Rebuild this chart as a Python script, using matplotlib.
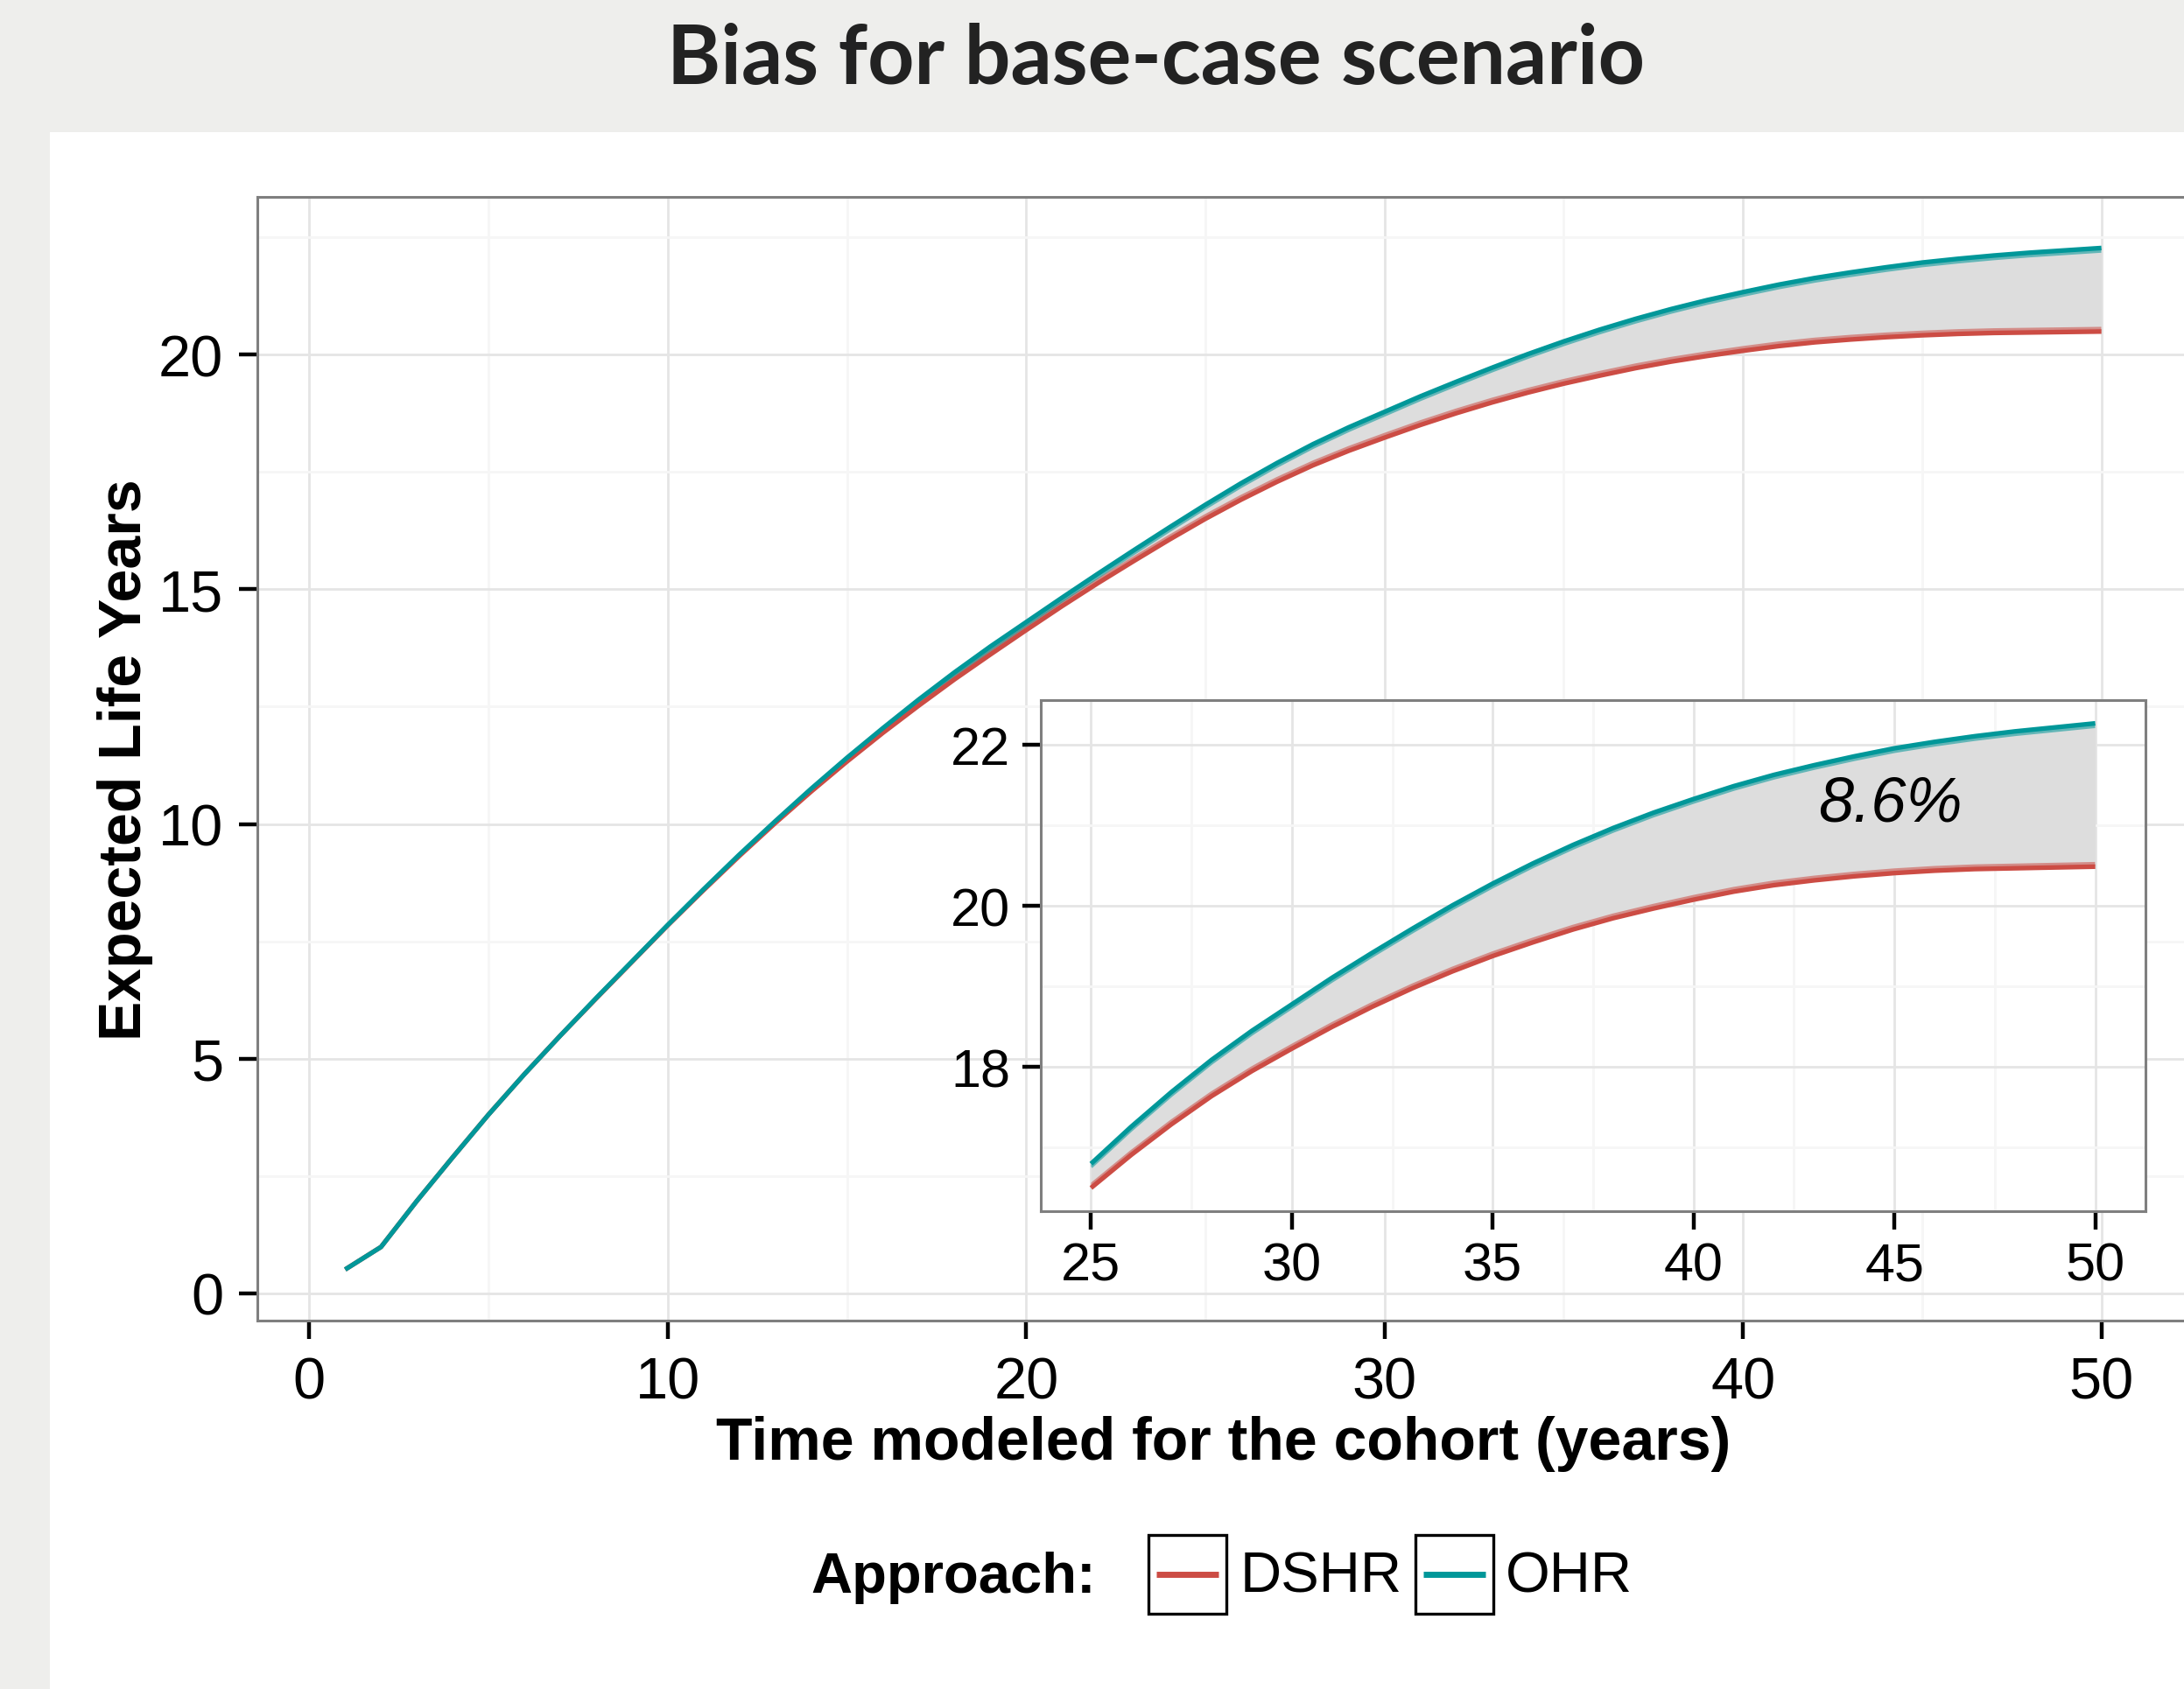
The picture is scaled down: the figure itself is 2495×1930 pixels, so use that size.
import matplotlib
matplotlib.use('Agg')
import matplotlib.pyplot as plt
from matplotlib.patches import Rectangle
from matplotlib.lines import Line2D
from matplotlib.ticker import MultipleLocator
from matplotlib.transforms import offset_copy

plt.rcParams['font.family'] = ['Liberation Sans', 'DejaVu Sans']

# data (expected life years per modeled year)
years = list(range(1, 51))
ohr = [0.51, 0.99, 1.97, 2.90, 3.81, 4.67, 5.49, 6.29, 7.07, 7.85,
       8.61, 9.35, 10.06, 10.75, 11.41, 12.04, 12.65, 13.23, 13.78, 14.30,
       14.82, 15.33, 15.83, 16.32, 16.80, 17.26, 17.69, 18.09, 18.45, 18.78,
       19.11, 19.42, 19.72, 20.01, 20.28, 20.53, 20.76, 20.97, 21.16, 21.33,
       21.49, 21.63, 21.75, 21.86, 21.96, 22.04, 22.11, 22.17, 22.22, 22.27]
dshr = [0.51, 0.99, 1.97, 2.90, 3.81, 4.67, 5.49, 6.28, 7.06, 7.84,
        8.59, 9.32, 10.02, 10.69, 11.33, 11.94, 12.52, 13.08, 13.61, 14.13,
        14.64, 15.13, 15.60, 16.06, 16.50, 16.91, 17.29, 17.64, 17.95, 18.23,
        18.50, 18.75, 18.98, 19.19, 19.38, 19.55, 19.71, 19.85, 19.97, 20.08,
        20.18, 20.26, 20.32, 20.37, 20.41, 20.44, 20.46, 20.47, 20.48, 20.49]
series_names = ['DSHR', 'OHR']
bias_label = '8.6%'
inset_start = 25

RED = '#CC4C44'
TEAL = '#009799'
BG = '#EEEEEC'
W, H = 2495, 1931
LW = 3.8


def fx(px):
    return px / W


def fy(py):
    return 1 - py / H


def style_axes(ax, xmajor, xminor, ymajor, yminor, fs, xpad, ypad):
    ax.set_facecolor('white')
    ax.xaxis.set_major_locator(MultipleLocator(xmajor))
    ax.xaxis.set_minor_locator(MultipleLocator(xminor))
    ax.yaxis.set_major_locator(MultipleLocator(ymajor))
    ax.yaxis.set_minor_locator(MultipleLocator(yminor))
    ax.grid(which='major', color='#E5E5E5', lw=2.0)
    ax.grid(which='minor', color='#F6F6F6', lw=2.0)
    ax.set_axisbelow(True)
    for s in ax.spines.values():
        s.set_color('#7F7F7F')
        s.set_linewidth(2.2)
    ax.tick_params(which='major', length=15, width=3.2, color='black',
                   labelsize=fs)
    ax.tick_params(axis='x', which='major', pad=xpad)
    ax.tick_params(axis='y', which='major', pad=ypad)
    ax.tick_params(which='minor', length=0)


def draw_series(ax, x, lo, hi):
    ribbon = ax.fill_between(x, lo, hi, color='#DDDDDD', lw=0)
    rpath = ribbon.get_paths()[0]
    # lighter inner edge on the ribbon side, clipped to the ribbon
    for ys, col, dy in [(lo, RED, 2.4), (hi, TEAL, -2.4)]:
        tr = offset_copy(ax.transData, fig=ax.figure, x=0, y=dy, units='points')
        edge, = ax.plot(x, ys, color=col, lw=3.0, alpha=0.55, transform=tr,
                        solid_capstyle='butt')
        edge.set_clip_path(rpath, ax.transData)
    ax.plot(x, lo, color=RED, lw=LW, solid_capstyle='butt')
    ax.plot(x, hi, color=TEAL, lw=LW, solid_capstyle='butt')


fig = plt.figure(figsize=(W / 100, H / 100), dpi=100)
fig.patch.set_facecolor(BG)
fig.add_artist(Rectangle((fx(57), 0), 1, fy(152), transform=fig.transFigure,
                         facecolor='white', edgecolor='none', zorder=0))

fig.text(fx(1320), fy(96), 'Bias for base-case scenario', ha='center',
         va='baseline', fontsize=67, fontweight='bold',
         family=['Lato', 'DejaVu Sans'], color='#222222')

# main panel
ax = fig.add_axes([fx(294), fy(1510), fx(2501) - fx(294), fy(226) - fy(1510)])
lo_all = min(dshr + ohr)
hi_all = max(dshr + ohr)
pad_y = 0.05 * (hi_all - lo_all)
pad_x = 0.05 * (years[-1] - years[0])
ax.set_xlim(years[0] - pad_x, years[-1] + pad_x)
ax.set_ylim(lo_all - pad_y, hi_all + pad_y)
draw_series(ax, years, dshr, ohr)
style_axes(ax, 10, 5, 5, 2.5, 48, 14, 13)
ax.set_xlabel('Time modeled for the cohort (years)', fontsize=49,
              fontweight='bold', labelpad=4)
ax.set_ylabel('Expected Life Years', fontsize=49, fontweight='bold', labelpad=4)

# inset zoom on later years
i0 = years.index(inset_start)
xs = years[i0:]
lo_in = dshr[i0:]
hi_in = ohr[i0:]
axin = fig.add_axes([fx(1189), fy(1385), fx(2451) - fx(1189), fy(801) - fy(1385)])
pxi = 0.05 * (xs[-1] - xs[0])
pyi = 0.05 * (max(hi_in) - min(lo_in))
axin.set_xlim(xs[0] - pxi, xs[-1] + pxi)
axin.set_ylim(min(lo_in) - pyi, max(hi_in) + pyi)
draw_series(axin, xs, lo_in, hi_in)
style_axes(axin, 5, 2.5, 2, 1, 44, 10, 10)
axin.text(44.9, 21.27, bias_label, fontsize=52, style='italic',
          ha='center', va='center')

# legend drawn ggplot-style in one row
fig.text(fx(926), fy(1803), 'Approach:', fontsize=47, fontweight='bold',
         ha='left', va='center')
for name, col, bx, tx in [(series_names[0], RED, 1312, 1417),
                          (series_names[1], TEAL, 1617, 1720)]:
    fig.add_artist(Rectangle((fx(bx), fy(1845)), fx(89), fy(1755) - fy(1845),
                             transform=fig.transFigure, facecolor='white',
                             edgecolor='black', lw=2.4))
    fig.add_artist(Line2D([fx(bx + 9), fx(bx + 80)], [fy(1800), fy(1800)],
                          transform=fig.transFigure, color=col, lw=5,
                          solid_capstyle='butt'))
    fig.text(fx(tx), fy(1803), name, fontsize=47, ha='left', va='center')

fig.savefig('out.png', dpi=100, facecolor=BG)
